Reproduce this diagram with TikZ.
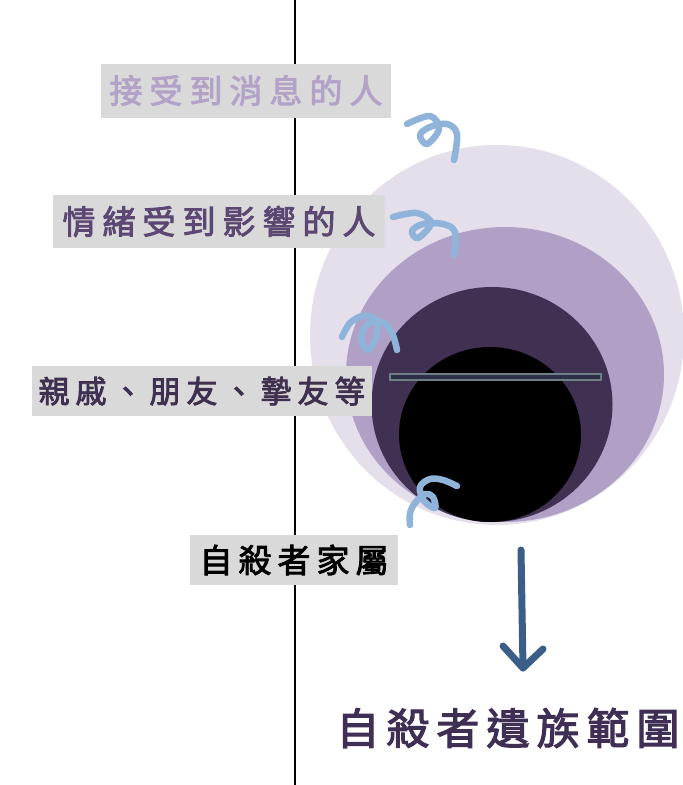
\documentclass[tikz,border=0pt]{standalone}
\usepackage{fontspec}
\newfontfamily\cjk{Noto Sans CJK TC}[AutoFakeBold=2.6]
\definecolor{boxgray}{HTML}{D9D9D9}
\definecolor{ellA}{HTML}{E4DFEA}
\definecolor{ellB}{HTML}{B1A0C6}
\definecolor{ellC}{HTML}{403152}
\definecolor{curlblue}{HTML}{8FB3D9}
\definecolor{arrowblue}{HTML}{3B5E88}
\definecolor{labA}{HTML}{B3A2C8}
\definecolor{labB}{HTML}{5C4773}
\definecolor{labC}{HTML}{3F3050}
\definecolor{titlec}{HTML}{3F2F55}
\definecolor{barfill}{HTML}{2C2F47}
\definecolor{bardraw}{HTML}{6F7F86}
\makeatletter
\newcommand\spaced[2]{\@tfor\sch:=#2\do{\makebox[#1]{\sch}}}
\makeatother
\begin{document}
\begin{tikzpicture}[x=1pt,y=-1pt,
  lab/.style={fill=boxgray, inner sep=0pt, font=\cjk\bfseries\fontsize{33}{40}\selectfont},
  curl/.style={draw=curlblue, line width=6.5pt, line cap=round, line join=round},
  bigarrow/.style={draw=arrowblue, line width=7pt, line cap=round, line join=round}]
\useasboundingbox (0,0) rectangle (683,785);
\fill[white] (0,0) rectangle (683,785);
% vertical axis line
\coordinate (lt) at (295,0);
\coordinate (lb) at (295,785);
\draw[line width=2pt] (lt) -- (lb);
% nested ellipses
\fill[ellA] (497,335) ellipse [x radius=187, y radius=190];
\fill[ellB] (505,374.5) ellipse [x radius=159, y radius=147.5];
\fill[ellC] (492,404.5) ellipse [x radius=120.5, y radius=117.5];
\fill[black] (490,434.5) ellipse [x radius=91, y radius=87.5];
% thin bar
\draw[fill=barfill, draw=bardraw, line width=1.5pt] (390,374) rectangle (601,380);
% labels
\node[lab, text=labA, minimum width=290, minimum height=54] (l1) at (246,90.5) {\spaced{40pt}{接受到消息的人}};
\node[lab, text=labB, minimum width=332, minimum height=53] (l2) at (219,221.5) {\spaced{40pt}{情緒受到影響的人}};
\node[lab, text=labC, minimum width=340, minimum height=50, font=\cjk\bfseries\fontsize{31}{40}\selectfont] (l3) at (202,391) {\spaced{37pt}{親戚、朋友、摯友等}};
\node[lab, text=black, minimum width=208, minimum height=50] (l4) at (294,560) {\spaced{39pt}{自殺者家屬}};
% curls
\draw[curl] plot[smooth, tension=0.6] coordinates {(407,124) (430,116) (439,129) (427,144) (420,135) (430,127) (447,124) (457,134) (454,160)};
\draw[curl] plot[smooth, tension=0.6] coordinates {(393,217) (417,213) (431,223) (418,238) (412,231) (423,224) (443,224) (455,232) (454,255)};
\draw[curl] plot[smooth, tension=0.6] coordinates {(342,337) (350,323) (363,316) (376,320) (376,337) (368,350) (361,338) (368,324) (382,322) (392,333) (397,350)};
\draw[curl] plot[smooth, tension=0.6] coordinates {(457,486) (443,480) (430,479) (420,487) (424,501) (435,508) (433,497) (425,494) (415,503) (410,513) (410,525)};
% arrow
\coordinate (as) at (521,550);
\coordinate (ae) at (523,668);
\draw[bigarrow] (as) -- (ae);
\draw[bigarrow] (ae) ++(-20,-22) -- (ae) -- ++(20,-19);
% title
\node[text=titlec, font=\cjk\bfseries\fontsize{43}{50}\selectfont, inner sep=0pt] (title) at (508,728) {\spaced{50pt}{自殺者遺族範圍}};
\end{tikzpicture}
\end{document}
